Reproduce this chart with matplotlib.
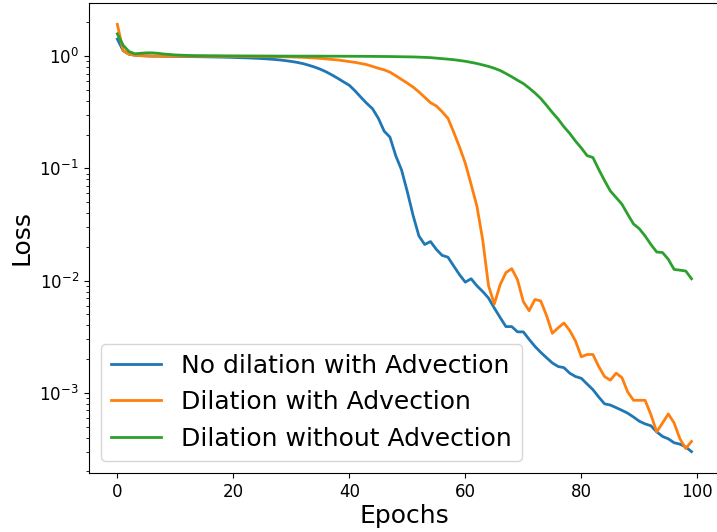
import matplotlib
matplotlib.use("Agg")
import matplotlib.pyplot as plt
import numpy as np

epochs = list(range(100))

no_dilation_adv = [
    1.42, 1.12, 1.04, 1.02, 1.01, 1.005, 1.0, 1.0, 0.998, 0.996,
    0.995, 0.993, 0.992, 0.99, 0.988, 0.986, 0.984, 0.982, 0.98, 0.977,
    0.974, 0.97, 0.966, 0.962, 0.957, 0.951, 0.944, 0.935, 0.925, 0.912,
    0.897, 0.88, 0.858, 0.83, 0.8, 0.765, 0.725, 0.68, 0.635, 0.59,
    0.55, 0.49, 0.43, 0.38, 0.34, 0.28, 0.215, 0.19, 0.13, 0.097,
    0.062, 0.038, 0.025, 0.021, 0.0223, 0.019, 0.0168, 0.0162, 0.0135, 0.0113,
    0.0097, 0.0104, 0.009, 0.008, 0.007, 0.0057, 0.0047, 0.0039, 0.0039, 0.0035,
    0.0035, 0.003, 0.0026, 0.0023, 0.00206, 0.00185, 0.00172, 0.00168, 0.0015, 0.0014,
    0.00135, 0.0012, 0.00107, 0.00092, 0.0008, 0.00078, 0.00074, 0.0007, 0.00066, 0.00061,
    0.00056, 0.00053, 0.00051, 0.00045, 0.00041, 0.00039, 0.00036, 0.00035, 0.00033, 0.00030,
]

dilation_adv = [
    1.92, 1.12, 1.04, 1.02, 1.01, 1.005, 1.003, 1.0, 1.0, 1.0,
    1.0, 1.0, 0.999, 0.999, 0.998, 0.998, 0.997, 0.997, 0.996, 0.996,
    0.995, 0.995, 0.994, 0.993, 0.992, 0.991, 0.99, 0.989, 0.988, 0.986,
    0.984, 0.98, 0.975, 0.97, 0.963, 0.955, 0.945, 0.935, 0.925, 0.91,
    0.895, 0.88, 0.86, 0.84, 0.81, 0.78, 0.755, 0.72, 0.67, 0.62,
    0.575, 0.53, 0.48, 0.43, 0.385, 0.36, 0.32, 0.28, 0.21, 0.155,
    0.111, 0.072, 0.046, 0.023, 0.009, 0.0062, 0.0092, 0.0118, 0.0128, 0.0102,
    0.0065, 0.0054, 0.0068, 0.0066, 0.0049, 0.0034, 0.0038, 0.0042, 0.0036, 0.0029,
    0.0021, 0.0022, 0.0022, 0.00172, 0.0014, 0.0013, 0.0015, 0.00137, 0.00102, 0.00086,
    0.00086, 0.00086, 0.00064, 0.00045, 0.00054, 0.00065, 0.00054, 0.00039, 0.00032, 0.00037,
]

dilation_no_adv = [
    1.58, 1.25, 1.1, 1.05, 1.06, 1.07, 1.07, 1.06, 1.045, 1.035,
    1.025, 1.02, 1.015, 1.012, 1.01, 1.01, 1.008, 1.008, 1.006, 1.006,
    1.005, 1.005, 1.004, 1.004, 1.003, 1.003, 1.002, 1.002, 1.001, 1.001,
    1.0, 1.0, 1.0, 1.0, 1.0, 1.0, 0.999, 0.999, 0.999, 0.998,
    0.998, 0.997, 0.997, 0.996, 0.995, 0.994, 0.993, 0.992, 0.99, 0.988,
    0.986, 0.984, 0.98, 0.975, 0.97, 0.96, 0.95, 0.94, 0.93, 0.915,
    0.9, 0.88, 0.86, 0.835, 0.81, 0.78, 0.745, 0.7, 0.655, 0.61,
    0.57, 0.52, 0.47, 0.42, 0.365, 0.315, 0.275, 0.235, 0.205, 0.175,
    0.152, 0.13, 0.125, 0.098, 0.078, 0.063, 0.055, 0.048, 0.039, 0.032,
    0.029, 0.025, 0.021, 0.018, 0.0178, 0.0155, 0.0126, 0.0124, 0.0122, 0.0104,
]

labels = ["No dilation with Advection", "Dilation with Advection", "Dilation without Advection"]

fig = plt.figure(figsize=(7.17, 5.32), dpi=100)
ax = fig.add_axes([0.1236, 0.1109, 0.8809, 0.8835])
ax.plot(epochs, no_dilation_adv, label=labels[0], lw=2)
ax.plot(epochs, dilation_adv, label=labels[1], lw=2)
ax.plot(epochs, dilation_no_adv, label=labels[2], lw=2)
ax.set_yscale("log")
ax.tick_params(labelsize=12)
ax.set_xlabel("Epochs", fontsize=18, labelpad=2)
ax.set_ylabel("Loss", fontsize=18)
ax.legend(loc="lower left", fontsize=18)
fig.savefig("out.png", dpi=100)
